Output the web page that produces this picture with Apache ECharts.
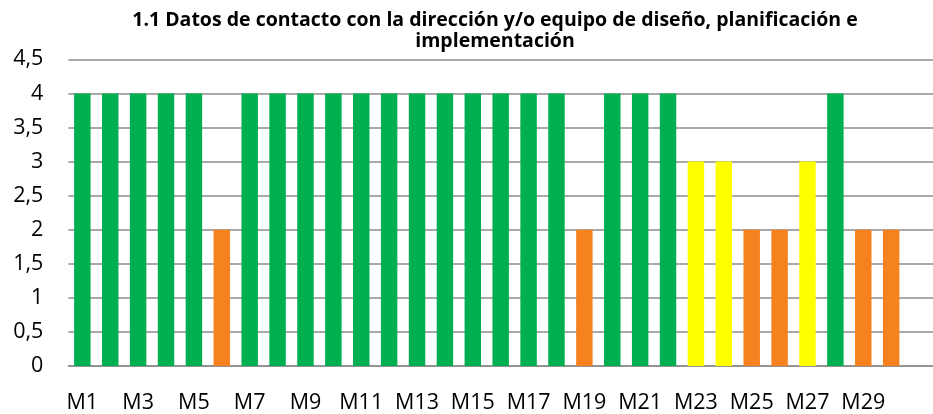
<!DOCTYPE html>
<html>
<head>
<meta charset="utf-8">
<script src="https://cdn.jsdelivr.net/npm/echarts@6/dist/echarts.min.js"></script>
<style>
html,body{margin:0;padding:0;background:#fff;}
#chart{width:933px;height:414px;}
</style>
</head>
<body>
<div id="chart"></div>
<script>
const titleText = '1.1 Datos de contacto con la dirección y/o equipo de diseño, planificación e\nimplementación';
const categories = ['M1','M2','M3','M4','M5','M6','M7','M8','M9','M10','M11','M12','M13','M14','M15','M16','M17','M18','M19','M20','M21','M22','M23','M24','M25','M26','M27','M28','M29','M30'];
const values = [4,4,4,4,4,2,4,4,4,4,4,4,4,4,4,4,4,4,2,4,4,4,3,3,2,2,3,4,2,2];
const yTicks = [0,0.5,1,1.5,2,2.5,3,3.5,4,4.5];

const colorByValue = {4:'#00B050', 3:'#FFFF00', 2:'#F5821F'};
const gridColor = '#8c8c8c';
const font = 'Open Sans';

// one empty padding slot so the gridlines run to the right edge like the reference
const axisCategories = categories.concat(['']);

const chart = echarts.init(document.getElementById('chart'));
chart.setOption({
  animation: false,
  backgroundColor: '#ffffff',
  title: {
    text: titleText,
    left: 490,
    textAlign: 'center',
    top: 5,
    textStyle: {fontFamily: font, fontWeight: 'bold', fontSize: 19.5, lineHeight: 21, color: '#000'}
  },
  grid: {left: 68.4, right: -9.9, top: 59.3, bottom: 47, containLabel: false},
  xAxis: {
    type: 'category',
    data: axisCategories,
    axisTick: {show: false},
    axisLine: {lineStyle: {color: gridColor, width: 1.5}},
    axisLabel: {interval: 1, margin: 26, fontFamily: font, fontSize: 21.5, color: '#000'}
  },
  yAxis: {
    type: 'value',
    min: yTicks[0],
    max: yTicks[yTicks.length - 1],
    interval: 0.5,
    axisLine: {show: false},
    axisTick: {show: false},
    splitLine: {lineStyle: {color: gridColor, width: 1.5}},
    axisLabel: {
      margin: 25, fontFamily: font, fontSize: 21.5, color: '#000',
      formatter: v => String(v).replace('.', ',')
    }
  },
  series: [{
    type: 'bar',
    barCategoryGap: '41%',
    data: values.map(v => ({value: v, itemStyle: {color: colorByValue[v]}}))
  }]
});
</script>
</body>
</html>
